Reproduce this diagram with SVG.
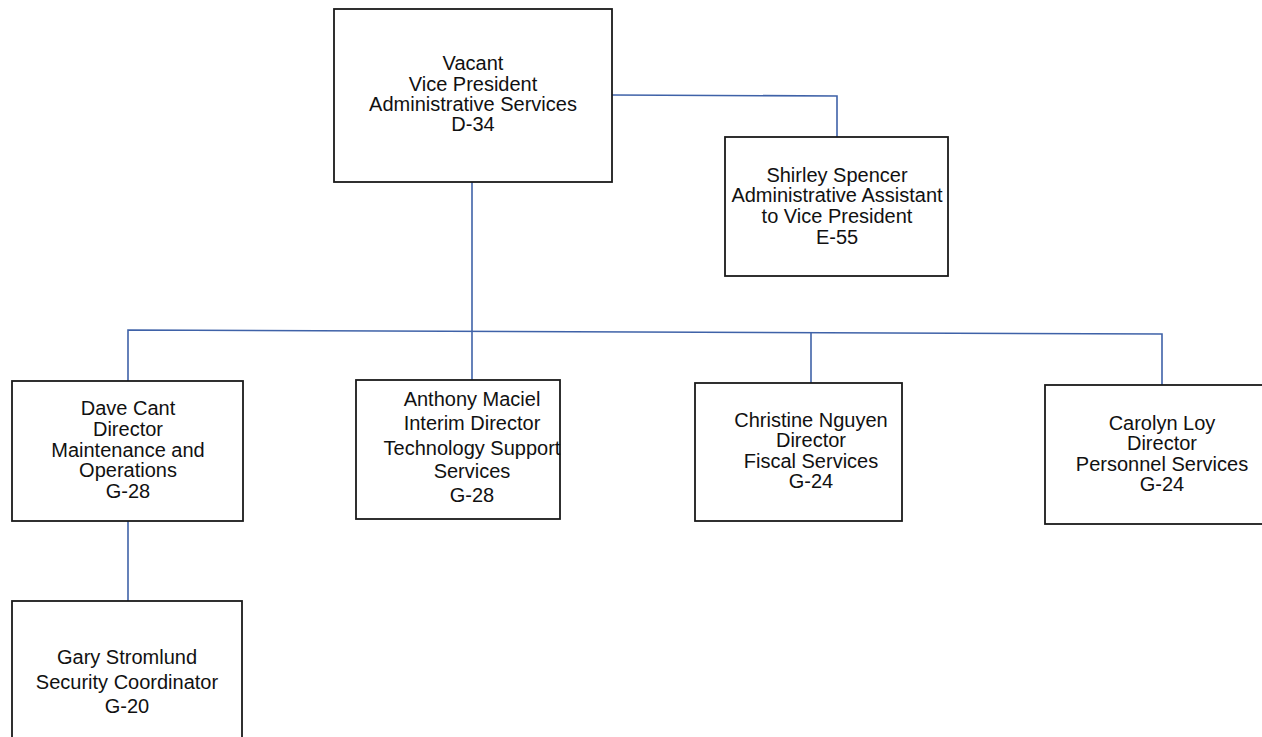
<svg xmlns="http://www.w3.org/2000/svg" width="1262" height="737" viewBox="0 0 1262 737">
<style>
.box{fill:#fff;stroke:#1a1a1a;stroke-width:1.8}
.t{font-family:"Liberation Sans",Arial,sans-serif;font-size:20px;fill:#111;text-anchor:middle}
.c{fill:none;stroke:#3f62a8;stroke-width:1.6}
</style>
<rect width="1262" height="737" fill="#fff"/>
<g id="connectors">
<polyline class="c" points="612,95 837,96 837,137"/>
<line class="c" x1="472" y1="182" x2="472" y2="380"/>
<polyline class="c" points="128,381 128,330 1162,334 1162,385"/>
<line class="c" x1="811" y1="332" x2="811" y2="383"/>
<line class="c" x1="128" y1="521" x2="128" y2="601"/>
</g>
<g id="vp">
<rect class="box" x="334" y="9" width="278" height="173"/>
<text class="t"><tspan x="473" y="70">Vacant</tspan><tspan x="473" y="91">Vice President</tspan><tspan x="473" y="111">Administrative Services</tspan><tspan x="473" y="131">D-34</tspan></text>
</g>
<g id="assistant">
<rect class="box" x="725" y="137" width="223" height="139"/>
<text class="t"><tspan x="837" y="182">Shirley Spencer</tspan><tspan x="837" y="202">Administrative Assistant</tspan><tspan x="837" y="223">to Vice President</tspan><tspan x="837" y="244">E-55</tspan></text>
</g>
<g id="maintenance">
<rect class="box" x="12" y="381" width="231" height="140"/>
<text class="t"><tspan x="128" y="415">Dave Cant</tspan><tspan x="128" y="436">Director</tspan><tspan x="128" y="457">Maintenance and</tspan><tspan x="128" y="477">Operations</tspan><tspan x="128" y="498">G-28</tspan></text>
</g>
<g id="technology">
<rect class="box" x="356" y="380" width="204" height="139"/>
<text class="t"><tspan x="472" y="406">Anthony Maciel</tspan><tspan x="472" y="430">Interim Director</tspan><tspan x="472" y="455">Technology Support</tspan><tspan x="472" y="478">Services</tspan><tspan x="472" y="502">G-28</tspan></text>
</g>
<g id="fiscal">
<rect class="box" x="695" y="383" width="207" height="138"/>
<text class="t"><tspan x="811" y="427">Christine Nguyen</tspan><tspan x="811" y="447">Director</tspan><tspan x="811" y="468">Fiscal Services</tspan><tspan x="811" y="488">G-24</tspan></text>
</g>
<g id="personnel">
<rect class="box" x="1045" y="385" width="230" height="139"/>
<text class="t"><tspan x="1162" y="430">Carolyn Loy</tspan><tspan x="1162" y="450">Director</tspan><tspan x="1162" y="471">Personnel Services</tspan><tspan x="1162" y="491">G-24</tspan></text>
</g>
<g id="security">
<rect class="box" x="12" y="601" width="230" height="150"/>
<text class="t"><tspan x="127" y="664">Gary Stromlund</tspan><tspan x="127" y="689">Security Coordinator</tspan><tspan x="127" y="713">G-20</tspan></text>
</g>
</svg>
